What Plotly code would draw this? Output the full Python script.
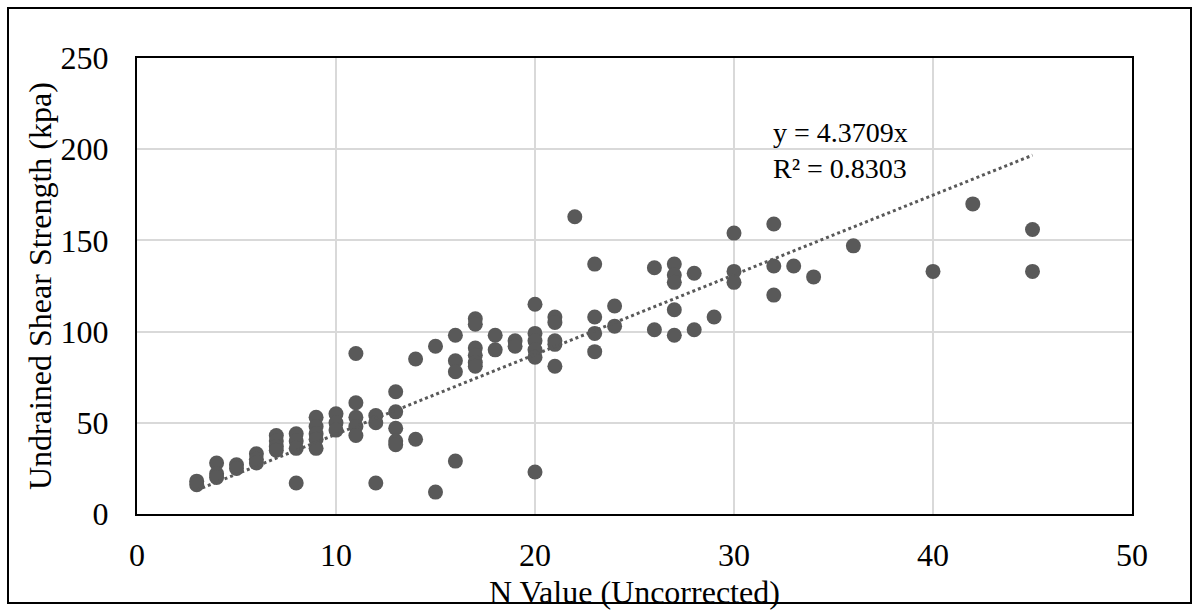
import plotly.graph_objects as go

# SPT N value (uncorrected) and undrained shear strength (kPa)
n_value = [3, 3,
           4, 4, 4,
           5, 5,
           6, 6, 6,
           7, 7, 7, 7,
           8, 8, 8, 8,
           9, 9, 9, 9, 9,
           10, 10, 10,
           11, 11, 11, 11, 11,
           12, 12, 12,
           13, 13, 13, 13, 13,
           14, 14,
           15, 15,
           16, 16, 16, 16,
           17, 17, 17, 17, 17, 17,
           18, 18,
           19, 19,
           20, 20, 20, 20, 20, 20,
           21, 21, 21, 21, 21,
           22,
           23, 23, 23, 23,
           24, 24,
           26, 26,
           27, 27, 27, 27, 27,
           28, 28,
           29,
           30, 30, 30,
           32, 32, 32,
           33,
           34,
           36,
           40,
           42,
           45, 45]
shear_strength = [18, 16,
                  28, 22, 20,
                  27, 25,
                  33, 30, 28,
                  43, 40, 37, 35,
                  44, 40, 36, 17,
                  53, 48, 44, 41, 36,
                  55, 50, 46,
                  88, 61, 53, 48, 43,
                  54, 50, 17,
                  67, 56, 47, 40, 38,
                  85, 41,
                  92, 12,
                  98, 84, 78, 29,
                  107, 104, 91, 87, 83, 81,
                  98, 90,
                  95, 92,
                  115, 99, 95, 90, 86, 23,
                  108, 105, 95, 93, 81,
                  163,
                  137, 108, 99, 89,
                  114, 103,
                  135, 101,
                  137, 131, 127, 112, 98,
                  132, 101,
                  108,
                  154, 133, 127,
                  159, 136, 120,
                  136,
                  130,
                  147,
                  133,
                  170,
                  156, 133]

slope = 4.3709
r_squared = 0.8303

x_ticks = [0, 10, 20, 30, 40, 50]
y_ticks = [0, 50, 100, 150, 200, 250]

MARK = "#595959"
GRID = "#d9d9d9"
FONT = "Liberation Serif, Times New Roman, serif"
TICK_FS = 32
TITLE_FS = 32
EQ_FS = 28

# Trend line through the origin across the observed N range
trend_x = [min(n_value), max(n_value)]
trend_y = [slope * v for v in trend_x]

fig = go.Figure()
fig.add_trace(go.Scatter(
    x=n_value, y=shear_strength, mode="markers",
    marker=dict(size=15, color=MARK, line=dict(width=0)),
    showlegend=False, cliponaxis=False,
))
fig.add_trace(go.Scatter(
    x=trend_x, y=trend_y, mode="lines",
    line=dict(color=MARK, width=3, dash="dot"),
    showlegend=False,
))

L, R, T, B = 137, 67, 58, 96
W, H = 1199, 610
pw, ph = W - L - R, H - T - B


def px_x(p):
    return (p - L) / pw


def px_y(p):
    return (H - B - p) / ph


axis_common = dict(
    showgrid=True, gridcolor=GRID, gridwidth=2,
    showline=True, linecolor="black", linewidth=2, mirror=True,
    zeroline=False, ticks="",
    tickfont=dict(family=FONT, size=TICK_FS, color="black"),
)

fig.update_layout(
    width=W, height=H,
    margin=dict(l=L, r=R, t=T, b=B),
    paper_bgcolor="white", plot_bgcolor="white",
    xaxis=dict(range=[0, 50], tickvals=x_ticks, ticklabelstandoff=12, **axis_common),
    yaxis=dict(range=[0, 250], tickvals=y_ticks, ticklabelstandoff=20, **axis_common),
    annotations=[
        dict(text="N Value (Uncorrected)", xref="paper", yref="paper",
             x=0.5, y=px_y(592), xanchor="center", yanchor="middle",
             showarrow=False, font=dict(family=FONT, size=TITLE_FS, color="black")),
        dict(text="Undrained Shear Strength (kpa)", xref="paper", yref="paper",
             x=px_x(40), y=0.5, xanchor="center", yanchor="middle", textangle=-90,
             showarrow=False, font=dict(family=FONT, size=TITLE_FS, color="black")),
        dict(text=f"y = {slope:.4f}x<br>R² = {r_squared:.4f}", xref="paper", yref="paper",
             x=px_x(771), y=px_y(150), xanchor="left", yanchor="middle", align="left",
             showarrow=False, font=dict(family=FONT, size=EQ_FS, color="black")),
    ],
    shapes=[
        dict(type="rect", xref="paper", yref="paper",
             x0=px_x(8), x1=px_x(1191), y0=px_y(603), y1=px_y(8),
             line=dict(color="black", width=2), fillcolor="rgba(0,0,0,0)", layer="below"),
    ],
)

fig.write_html("out.html")
